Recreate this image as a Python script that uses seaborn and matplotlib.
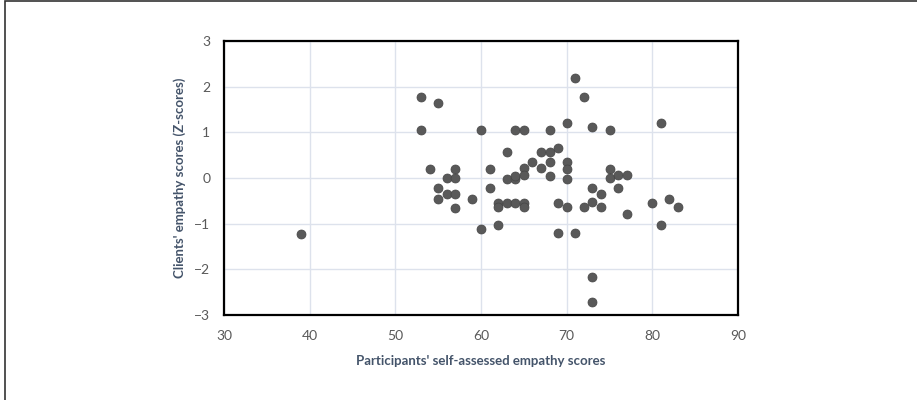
import numpy as np
import pandas as pd
import matplotlib
matplotlib.use("Agg")
import matplotlib.pyplot as plt
import seaborn as sns

# Values
self_scores = [39, 53, 53, 55, 54, 55, 55, 56, 56, 57, 57, 57, 57, 59,
               60, 60, 61, 61, 62, 62, 62, 63, 63, 63, 64, 64, 64, 64,
               65, 65, 65, 65, 65, 66, 67, 67, 68, 68, 68, 68, 69, 69, 69,
               70, 70, 70, 70, 70, 71, 71, 72, 72, 73, 73, 73, 73, 73,
               74, 74, 75, 75, 75, 76, 76, 77, 77, 80, 81, 81, 82, 83]
client_z = [-1.23, 1.78, 1.05, 1.64, 0.20, -0.22, -0.46, -0.01, -0.36, 0.20, -0.01, -0.36, -0.65, -0.47,
            1.05, -1.11, 0.20, -0.22, -0.54, -0.64, -1.03, 0.56, -0.02, -0.54, 1.05, -0.02, 0.05, -0.54,
            1.05, 0.21, 0.07, -0.54, -0.64, 0.36, 0.56, 0.22, 1.05, 0.56, 0.36, 0.05, 0.65, -0.54, -1.21,
            1.21, 0.36, 0.20, -0.02, -0.64, 2.20, -1.21, 1.78, -0.64, 1.12, -0.22, -0.53, -2.17, -2.71,
            -0.35, -0.64, 1.05, 0.20, -0.01, 0.06, -0.22, 0.06, -0.78, -0.54, 1.21, -1.03, -0.46, -0.64]

x_ticks = [30, 40, 50, 60, 70, 80, 90]
y_ticks = [-3, -2, -1, 0, 1, 2, 3]

df = pd.DataFrame({"self": self_scores, "client": client_z})

sns.set_style("white")
plt.rcParams["font.family"] = ["Lato", "DejaVu Sans"]

fig = plt.figure(figsize=(9.17, 4.0), dpi=100)
ax = fig.add_axes([0.2443, 0.2125, 0.5605, 0.685])

sns.scatterplot(data=df, x="self", y="client", ax=ax, color="#595959",
                s=42, edgecolor="#454545", linewidth=0.5, zorder=3)

ax.set_xlim(30, 90)
ax.set_ylim(-3, 3)
ax.set_xticks(x_ticks)
ax.set_yticks(y_ticks)
ax.grid(True, color="#dde2ec", linewidth=1.0, zorder=0)
ax.set_axisbelow(True)

for sp in ax.spines.values():
    sp.set_visible(True)
    sp.set_color("black")
    sp.set_linewidth(1.6)

ax.tick_params(axis="x", length=0, labelsize=10, labelcolor="#595959", pad=11)
ax.tick_params(axis="y", length=0, labelsize=10, labelcolor="#595959", pad=10)

ax.set_xlabel("Participants' self-assessed empathy scores", fontsize=9.5,
              fontweight="bold", color="#44546a", labelpad=9)
ax.set_ylabel("Clients' empathy scores (Z-scores)", fontsize=9.5,
              fontweight="bold", color="#44546a", labelpad=6)

# thin frame around the whole picture
fig.patches.append(plt.Rectangle((5 / 917, -0.01), 1.0, 1.007, transform=fig.transFigure,
                                 fill=False, edgecolor="#333333", linewidth=1.2))

fig.savefig("out.png", dpi=100)
plt.close()
